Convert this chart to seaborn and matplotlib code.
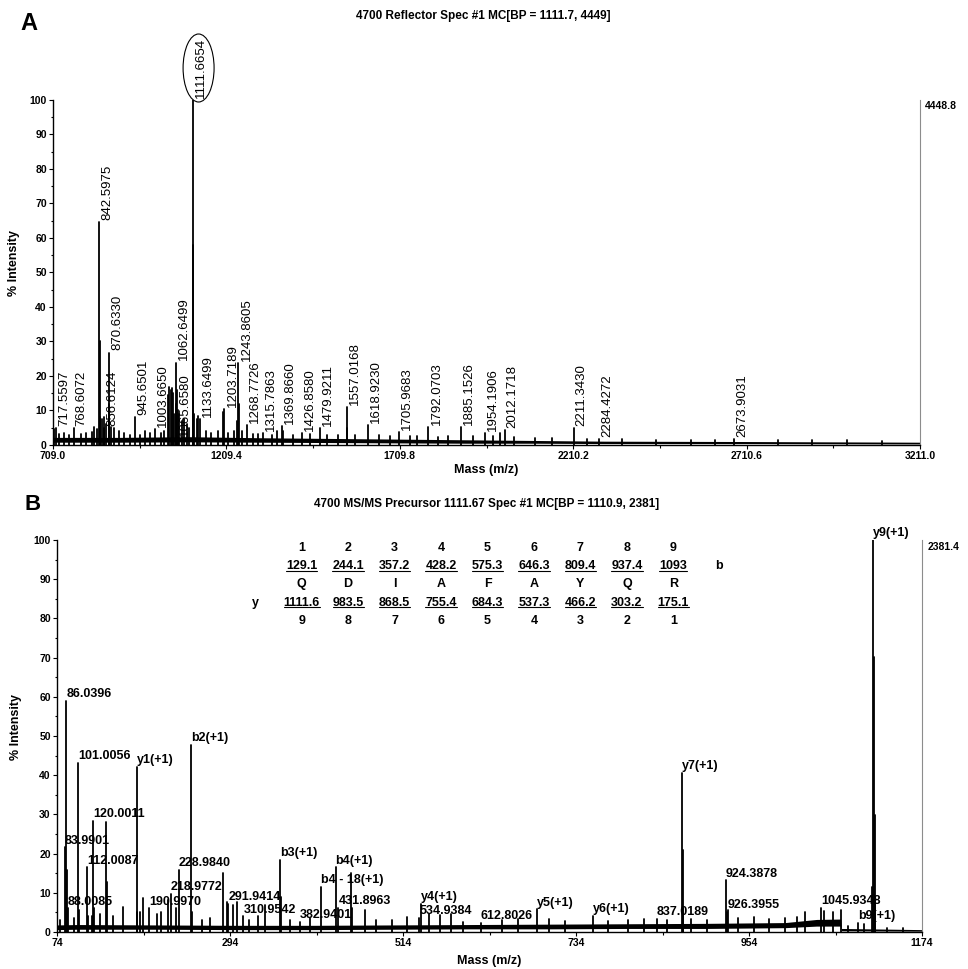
import numpy as np
import pandas as pd
import matplotlib
matplotlib.use('Agg')
import matplotlib.pyplot as plt
import seaborn as sns
from matplotlib.patches import Ellipse
from matplotlib.lines import Line2D
from matplotlib.transforms import ScaledTranslation

sns.set_style('ticks', rc={'axes.edgecolor': 'black', 'xtick.color': 'black',
                           'ytick.color': 'black', 'text.color': 'black',
                           'axes.labelcolor': 'black'})
plt.rcParams['font.family'] = ['Liberation Sans', 'DejaVu Sans']

# ---------------- panel A : MS spectrum ----------------
a_title = '4700 Reflector Spec #1 MC[BP = 1111.7, 4449]'
a_xticks = [709.0, 1209.4, 1709.8, 2210.2, 2710.6, 3211.0]
a_top = '4448.8'

a_label_mass = [717.5597, 768.6072, 842.5975, 856.6124, 870.6330, 945.6501, 1003.6650,
                1062.6499, 1065.6580, 1111.6654, 1133.6499, 1203.7189, 1243.8605, 1268.7726,
                1315.7863, 1369.8660, 1426.8580, 1479.9211, 1557.0168, 1618.9230, 1705.9683,
                1792.0703, 1885.1526, 1954.1906, 2012.1718, 2211.3430, 2284.4272, 2673.9031]
a_label_int = [4.8, 4.8, 64.5, 5.0, 26.8, 8.1, 4.5,
               23.9, 2.0, 100.0, 7.5, 10.3, 23.7, 5.8,
               3.5, 5.5, 3.5, 5.0, 11.0, 5.8, 3.8,
               5.3, 5.2, 3.5, 4.4, 5.0, 1.8, 1.6]
a_circled = '1111.6654'

a_peak_mass = [712, 725, 740, 755, 790, 805, 820, 826, 835, 843.6, 844.6, 849, 855.6, 862,
               871.6, 877, 885, 900, 913, 930, 960, 975, 990, 1020, 1030, 1041.8, 1044.6,
               1048, 1051.5, 1054, 1058, 1063.6, 1066.6, 1069, 1073, 1080, 1086, 1095, 1100,
               1112.7, 1113.7, 1114.7, 1125, 1128, 1150, 1165, 1185, 1200.7, 1215, 1230,
               1240, 1244.9, 1255, 1285, 1300, 1340, 1355, 1372, 1400, 1450, 1500, 1530,
               1558, 1580, 1650, 1680, 1740, 1760, 1820, 1850, 1920, 1980, 2000, 2040,
               2100, 2150, 2250, 2350, 2450, 2550, 2620, 2800, 2900, 3000, 3100]
a_peak_int = [4.5, 3.2, 3.5, 3.0, 3.2, 3.5, 3.8, 5.3, 4.5, 30.0, 8.0, 7.5, 8.0, 6.0,
              12.0, 5.3, 5.0, 4.0, 3.5, 3.0, 3.0, 4.0, 3.5, 3.5, 4.0, 14.5, 16.8,
              15.8, 16.5, 15.0, 9.0, 12.0, 16.0, 10.0, 9.0, 7.0, 7.5, 6.0, 5.0,
              58.0, 25.0, 9.0, 7.5, 8.3, 4.0, 3.5, 4.0, 9.5, 3.5, 4.0,
              7.0, 12.0, 4.0, 3.3, 3.3, 3.0, 4.0, 4.0, 3.0, 3.2, 2.8, 2.8,
              5.0, 2.8, 2.8, 2.5, 2.5, 2.5, 2.4, 2.5, 2.5, 2.5, 3.5, 2.4,
              2.0, 2.0, 1.8, 1.6, 1.5, 1.5, 1.4, 1.4, 1.3, 1.3, 1.2]

a_base_mass = [709, 900, 1100, 1300, 1500, 1700, 1900, 2100, 2300, 2700, 3211]
a_base_lo = [0.8, 0.8, 0.9, 0.8, 0.7, 0.6, 0.5, 0.5, 0.4, 0.4, 0.3]
a_base_hi = [2.2, 2.2, 2.4, 2.1, 1.9, 1.7, 1.5, 1.3, 1.1, 1.0, 0.8]

# ---------------- panel B : MS/MS spectrum ----------------
b_title = '4700 MS/MS Precursor 1111.67 Spec #1 MC[BP = 1110.9, 2381]'
b_xticks = [74, 294, 514, 734, 954, 1174]
b_top = '2381.4'

b_labels = ['83.9901', '86.0396', '88.0085', '101.0056', '112.0087', '120.0011', 'y1(+1)',
            '190.9970', '218.9772', '228.9840', 'b2(+1)', '291.9414', '310.9542', 'b3(+1)',
            '382.9401', 'b4 - 18(+1)', 'b4(+1)', '431.8963', 'y4(+1)', '534.9384',
            '612.8026', 'y5(+1)', 'y6(+1)', '837.0189', 'y7(+1)', '924.3878', '926.3955',
            '1045.9348', 'b9(+1)', 'y9(+1)']
b_label_mass = [83.99, 86.04, 88.01, 101.01, 112.01, 120.0, 175.1,
                191.0, 218.98, 228.98, 244.1, 291.94, 310.95, 357.2,
                382.94, 410.2, 428.2, 431.9, 537.3, 534.94,
                612.8, 684.3, 755.4, 837.02, 868.5, 924.39, 926.4,
                1045.93, 1093.0, 1111.6]
b_label_int = [21.6, 59.0, 6.0, 43.2, 16.5, 28.4, 42.1,
               6.0, 9.7, 15.9, 47.7, 7.2, 4.0, 18.4,
               2.5, 11.5, 16.5, 6.2, 7.2, 3.6,
               2.4, 5.8, 4.1, 3.4, 40.6, 13.2, 5.2,
               6.2, 2.4, 100.0]

b_peak_mass = [78, 87.04, 95, 102.0, 113, 119.0, 121.0, 129, 136.1, 137.1, 145.6, 157.5,
               176.1, 179.5, 183.8, 200.8, 206, 215.6, 225, 245.3, 258, 268.6, 284.7,
               289.8, 298.2, 302.5, 318, 330, 338.5, 358.2, 370, 395.7, 447.9, 449.0,
               466.2, 480, 500, 518.7, 547, 561, 575.3, 590.7, 640, 660, 700, 720, 775,
               800, 820, 850, 869.5, 870.5, 880, 900, 927.4, 940, 960, 980, 1000, 1015,
               1025, 1049.7, 1061.2, 1070.6, 1080, 1100, 1110.6, 1112.6, 1113.6, 1114.6,
               1130, 1150]
b_peak_int = [3.0, 15.9, 3.5, 5.7, 4.0, 4.0, 6.0, 4.6, 28.0, 12.8, 4.0, 6.5,
              5.0, 5.2, 8.6, 4.6, 5.2, 8.1, 6.0, 5.2, 3.0, 3.5, 15.0,
              7.7, 7.0, 7.7, 3.0, 4.0, 6.9, 9.0, 3.0, 3.5, 15.0, 6.0,
              5.6, 3.0, 3.0, 3.7, 4.7, 4.3, 4.7, 2.6, 3.0, 3.2, 3.2, 2.8, 2.9,
              3.0, 3.3, 3.0, 20.9, 6.0, 3.3, 3.0, 5.6, 3.5, 3.8, 3.4, 3.6, 3.8,
              5.2, 5.4, 5.1, 5.6, 1.5, 2.0, 11.6, 70.2, 29.8, 8.0,
              1.0, 0.9]

b_base_mass = [74, 100, 200, 300, 400, 500, 600, 700, 800, 900, 1000, 1020, 1040,
               1070.5, 1071.5, 1174]
b_base_lo = [0.6, 0.7, 0.7, 0.6, 0.6, 0.7, 0.8, 0.8, 0.9, 0.9, 1.1, 1.3, 1.5, 1.5, 0.3, 0.2]
b_base_hi = [1.8, 1.9, 1.8, 1.7, 1.7, 1.8, 1.9, 2.0, 2.1, 2.2, 2.4, 2.8, 3.2, 3.3, 0.9, 0.6]

# fragment table (sequence QDIAFAYQR)
tab_b_index = ['1', '2', '3', '4', '5', '6', '7', '8', '9']
tab_b_ions = ['129.1', '244.1', '357.2', '428.2', '575.3', '646.3', '809.4', '937.4', '1093']
tab_residues = ['Q', 'D', 'I', 'A', 'F', 'A', 'Y', 'Q', 'R']
tab_y_ions = ['1111.6', '983.5', '868.5', '755.4', '684.3', '537.3', '466.2', '303.2', '175.1']
tab_y_index = ['9', '8', '7', '6', '5', '4', '3', '2', '1']


def draw_spectrum(ax, masses, heights, base_mass, base_lo, base_hi):
    ax.fill_between(base_mass, base_lo, base_hi, color='black', lw=0, zorder=2)
    rows = []
    for i, (m, h) in enumerate(zip(masses, heights)):
        rows.append((i, m, 0.0))
        rows.append((i, m, h))
    df = pd.DataFrame(rows, columns=['peak', 'mass', 'intensity'])
    sns.lineplot(data=df, x='mass', y='intensity', units='peak', estimator=None,
                 sort=False, color='black', lw=1.3, ax=ax, zorder=3)


def style_axes(ax, xticks, xfmt, top_value):
    ax.set_xlim(xticks[0], xticks[-1])
    ax.set_ylim(0, 100)
    ax.set_xticks(xticks)
    ax.set_xticklabels([xfmt.format(v) for v in xticks], fontweight='bold', fontsize=7.5)
    ax.set_xticks([(a + b) / 2 for a, b in zip(xticks[:-1], xticks[1:])], minor=True)
    yt = list(range(0, 101, 10))
    ax.set_yticks(yt)
    ax.set_yticklabels([str(v) for v in yt], fontweight='bold', fontsize=7.5)
    ax.set_yticks(list(range(5, 100, 10)), minor=True)
    ax.tick_params(which='major', length=3, width=0.8, pad=1.5)
    ax.tick_params(which='minor', length=1.8, width=0.8)
    ax.tick_params(axis='y', right=False)
    ax.spines['top'].set_visible(False)
    ax.spines['right'].set_visible(True)
    ax.spines['right'].set_color('#8c8c8c')
    for s in ['left', 'bottom']:
        ax.spines[s].set_linewidth(1.0)
    ax.set_xlabel('Mass (m/z)', fontweight='bold', fontsize=9)
    ax.set_ylabel('% Intensity', fontweight='bold', fontsize=9)
    ax.text(1.006, 0.983, top_value, transform=ax.transAxes, fontsize=7.5,
            fontweight='bold', ha='left', va='center')


fig = plt.figure(figsize=(9.68, 9.69), dpi=100)
axA = fig.add_axes([0.0548, 0.5408, 0.8957, 0.356])
axB = fig.add_axes([0.0589, 0.0382, 0.8936, 0.4045])

# ---- panel A ----
draw_spectrum(axA, a_label_mass + a_peak_mass, a_label_int + a_peak_int,
              a_base_mass, a_base_lo, a_base_hi)
style_axes(axA, a_xticks, '{:.1f}', a_top)
axA.xaxis.set_label_coords(0.5, -0.055)
axA.yaxis.set_label_coords(-0.038, 0.528)
for m, h in zip(a_label_mass, a_label_int):
    txt = '{:.4f}'.format(m)
    axA.annotate(txt, (m, h), xytext=(1.5, 1.5), textcoords='offset points',
                 rotation=90, ha='left', va='bottom', fontsize=9.5,
                 annotation_clip=False, zorder=4)
    if txt == a_circled:
        tr = fig.dpi_scale_trans + ScaledTranslation(m, h, axA.transData)
        axA.add_patch(Ellipse((0.06, 0.32), 0.31, 0.68, transform=tr, fill=False,
                              ec='black', lw=0.8, clip_on=False))

# ---- panel B ----
draw_spectrum(axB, b_label_mass + b_peak_mass, b_label_int + b_peak_int,
              b_base_mass, b_base_lo, b_base_hi)
style_axes(axB, b_xticks, '{:d}', b_top)
axB.xaxis.set_label_coords(0.5, -0.058)
axB.yaxis.set_label_coords(-0.0405, 0.523)
for lab, m, h in zip(b_labels, b_label_mass, b_label_int):
    axB.annotate(lab, (m, h), xytext=(0, 0.5), textcoords='offset points',
                 ha='left', va='bottom', fontsize=9, fontweight='bold',
                 annotation_clip=False, zorder=4)

# fragment table
col0, dcol = 0.2829, 0.0537
row0, drow = 0.980, 0.0465
underlined = []
rows = [tab_b_index, tab_b_ions, tab_residues, tab_y_ions, tab_y_index]
for r, row in enumerate(rows):
    for c, val in enumerate(row):
        t = axB.text(col0 + c * dcol, row0 - r * drow, val, transform=axB.transAxes,
                     ha='center', va='center', fontsize=9, fontweight='bold')
        if r in (1, 3):
            underlined.append(t)
axB.text(0.765, row0 - drow, 'b', transform=axB.transAxes, ha='center', va='center',
         fontsize=9, fontweight='bold')
axB.text(0.2293, row0 - 3 * drow, 'y', transform=axB.transAxes, ha='center', va='center',
         fontsize=9, fontweight='bold')

# titles and panel letters
fig.text(0.499, 0.9835, a_title, ha='center', va='center', fontsize=8.5, fontweight='bold')
fig.text(0.5028, 0.4799, b_title, ha='center', va='center', fontsize=8.5, fontweight='bold')
fig.text(0.030, 0.976, 'A', ha='center', va='center', fontsize=17, fontweight='bold')
fig.text(0.0336, 0.479, 'B', ha='center', va='center', fontsize=16, fontweight='bold')

# underline the ion masses in the table
fig.canvas.draw()
renderer = fig.canvas.get_renderer()
inv = fig.transFigure.inverted()
for t in underlined:
    bb = t.get_window_extent(renderer)
    (x0, y0), (x1, _) = inv.transform([(bb.x0, bb.y0 + 1.5), (bb.x1, bb.y0 + 1.5)])
    fig.add_artist(Line2D([x0, x1], [y0, y0], transform=fig.transFigure,
                          color='black', lw=0.8))

fig.savefig('out.png', dpi=100)
